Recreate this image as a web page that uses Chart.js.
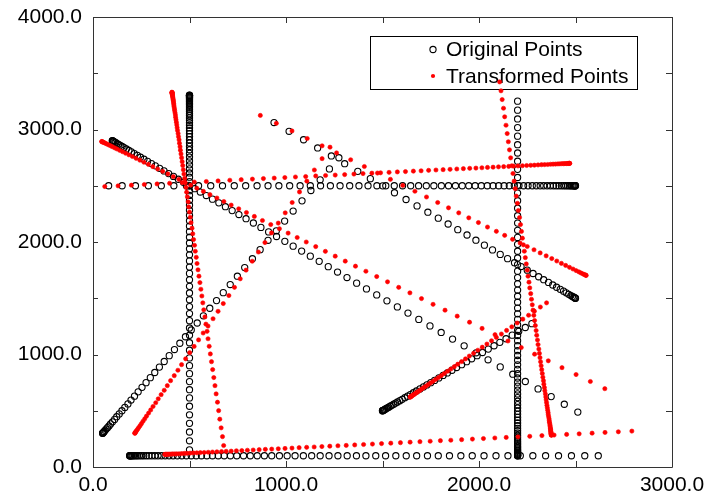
<!DOCTYPE html>
<html><head><meta charset="utf-8">
<script src="https://cdn.jsdelivr.net/npm/chart.js@4/dist/chart.umd.min.js"></script>
<style>html,body{margin:0;padding:0;background:#fff;}canvas{display:block;}</style>
</head><body>
<canvas id="c" width="708" height="504"></canvas>
<script>
// ---- axis ticks ----
const xTickLabels = [0, 1000, 2000, 3000];
const yTickLabels = [0, 1000, 2000, 3000, 4000];
const xTickMarks = [0, 500, 1000, 1500, 2000, 2500, 3000];
const yTickMarks = [0, 500, 1000, 1500, 2000, 2500, 3000, 3500, 4000];
const seriesNames = ['Original Points', 'Transformed Points'];

// ---- Original points (black circles), segment by segment ----
const origA_x = [2500,2499,2498,2495,2492,2487,2482,2475,2468,2459,2449,2439,2427,2414,2400,2386,2370,2353,2335,2317,2297,2276,2254,2231,2207,2183,2157,2130,2102,2073,2043,2012,1980,1947,1913,1878,1842,1805,1766,1727,1687,1646,1604,1561,1517,1471,1425,1378,1330,1280,1230,1179,1126,1073,1019,963,907,850,791,732,671,610,547,484,419,354,287,220,151,81];
const origA_y = [2500,2500,2500,2500,2500,2500,2500,2500,2500,2500,2500,2500,2500,2500,2500,2500,2500,2500,2500,2500,2500,2500,2500,2500,2500,2500,2500,2500,2500,2500,2500,2500,2500,2500,2500,2500,2500,2500,2500,2500,2500,2500,2500,2500,2500,2500,2500,2500,2500,2500,2500,2500,2500,2500,2500,2500,2500,2500,2500,2500,2500,2500,2500,2500,2500,2500,2500,2500,2500,2500];
const origB_x = [500,500,500,500,500,500,500,500,500,500,500,500,500,500,500,500,500,500,500,500,500,500,500,500,500,500,500,500,500,500,500,500,500,500,500,500,500,500,500,500,500,500,500,500,500,500,500,500,500,500,500,500,500,500,500,500,500,500,500,500,500,500,500,500,500,500,500,500,500,500,500,500,500,500,500,500,500,500,500,500];
const origB_y = [3305,3304,3303,3300,3297,3292,3287,3280,3273,3264,3254,3244,3232,3220,3206,3191,3176,3159,3141,3123,3103,3082,3061,3038,3014,2989,2964,2937,2909,2880,2850,2820,2788,2755,2721,2686,2650,2614,2576,2537,2497,2456,2414,2371,2327,2282,2236,2189,2141,2092,2042,1991,1939,1886,1832,1777,1721,1664,1606,1547,1487,1426,1364,1301,1236,1171,1105,1038,970,901,830,759,687,614,540,464,388,311,233,153];
const origC_x = [2200,2200,2200,2200,2200,2200,2200,2200,2200,2200,2200,2200,2200,2200,2200,2200,2200,2200,2200,2200,2200,2200,2200,2200,2200,2200,2200,2200,2200,2200,2200,2200,2200,2200,2200,2200,2200,2200,2200,2200,2200,2200,2200,2200,2200,2200,2200,2200,2200,2200,2200,2200,2200,2200,2200,2200,2200,2200,2200,2200,2200,2200,2200,2200,2200,2200,2200,2200,2200,2200,2200,2200,2200,2200,2200,2200,2200,2200,2200,2200];
const origC_y = [100,100,102,105,108,113,118,125,132,141,150,161,173,185,199,214,229,246,264,282,302,323,344,367,391,416,441,468,496,525,554,585,617,650,684,719,754,791,829,868,908,949,991,1034,1078,1123,1169,1215,1263,1312,1362,1413,1465,1518,1573,1628,1684,1741,1799,1858,1918,1979,2041,2104,2168,2234,2300,2367,2435,2504,2574,2646,2718,2791,2865,2941,3017,3094,3172,3252];
const origD_x = [190,190,192,195,198,203,208,215,223,231,241,252,263,276,290,305,321,337,355,374,394,415,437,460,484,509,535,562,590,619,649,680,712,745,780,815,851,888,926,966,1006,1047,1090,1133,1177,1223,1269,1317,1365,1414,1465,1516,1569,1623,1677,1733,1789,1847,1906,1965,2026,2088,2150,2214,2279,2345,2412,2479,2548,2618];
const origD_y = [100,100,100,100,100,100,100,100,100,100,100,100,100,100,100,100,100,100,100,100,100,100,100,100,100,100,100,100,100,100,100,100,100,100,100,100,100,100,100,100,100,100,100,100,100,100,100,100,100,100,100,100,100,100,100,100,100,100,100,100,100,100,100,100,100,100,100,100,100,100];
const origE_x = [100,101,102,105,108,113,118,125,132,141,151,161,173,186,199,214,230,246,264,283,303,323,345,368,392,417,442,469,497,526,556,587,619,652,686,721,756,793,831,870,910,951,994,1037,1081,1126,1172,1219,1267,1316,1366,1417,1470,1523,1577,1632,1688,1746,1804,1863,1923,1985,2047,2110,2175,2240,2306,2374,2442,2512];
const origE_y = [2900,2899,2898,2895,2892,2887,2882,2875,2868,2859,2849,2839,2827,2814,2801,2786,2770,2754,2736,2717,2697,2677,2655,2632,2608,2583,2558,2531,2503,2474,2444,2413,2381,2348,2314,2279,2244,2207,2169,2130,2090,2049,2006,1963,1919,1874,1828,1781,1733,1684,1634,1583,1530,1477,1423,1368,1312,1254,1196,1137,1077,1015,953,890,825,760,694,626,558,488];
const origF_x = [2500,2499,2496,2491,2484,2476,2465,2452,2438,2421,2402,2382,2360,2335,2309,2280,2250,2218,2184,2148,2110,2070,2028,1984,1938,1890,1840,1789,1735,1679,1622,1562,1501,1437,1372,1304,1235,1164,1091,1016,938];
const origF_y = [1500,1501,1504,1509,1516,1524,1535,1548,1563,1579,1598,1618,1641,1665,1691,1720,1750,1782,1816,1852,1890,1930,1972,2016,2062,2110,2160,2212,2265,2321,2378,2438,2499,2563,2628,2696,2765,2836,2909,2984,3062];
const origG_x = [50,50,52,55,58,63,68,75,83,91,101,112,123,136,150,165,181,197,215,234,254,275,297,320,344,369,395,422,450,479,509,540,572,605,640,675,711,748,786,826,866,907,950,993,1037,1083,1129,1177,1225,1274];
const origG_y = [300,301,304,309,316,326,337,350,365,383,402,423,447,472,500,530,561,595,630,668,708,750,794,840,888,938,990,1044,1100,1158,1218,1280,1344,1411,1479,1550,1622,1696,1773,1851,1932,2015,2099,2186,2275,2366,2458,2553,2650,2749];
const origH_x = [1500,1500,1502,1504,1506,1510,1514,1520,1526,1532,1540,1548,1558,1568,1578,1590,1602,1616,1630,1644,1660,1676,1694,1712,1730,1750,1770,1792,1814,1836,1860,1884,1910,1936,1962,1990,2018,2048,2078,2108,2140,2172,2206,2240,2274];
const origH_y = [500,500,502,504,506,510,514,520,526,532,540,548,558,568,578,590,602,616,630,644,660,676,694,712,730,750,770,792,814,836,860,884,910,936,962,990,1018,1048,1078,1108,1140,1172,1206,1240,1274];

// ---- Transformed points (red dots), segment by segment ----
const tranA_x = [2470,2470,2468,2465,2462,2457,2452,2445,2438,2429,2419,2409,2397,2384,2371,2356,2340,2324,2306,2287,2268,2247,2225,2202,2179,2154,2128,2101,2073,2044,2015,1984,1952,1919,1885,1850,1814,1777,1739,1700,1660,1619,1577,1534,1490,1445,1399,1352,1304,1255,1205,1154,1102,1049,994,939,883,826,768,709,648,587,525,462,397,332,266,199,130,61];
const tranA_y = [2699,2699,2699,2699,2698,2698,2697,2697,2696,2696,2695,2694,2693,2692,2691,2689,2688,2687,2685,2683,2682,2680,2678,2676,2674,2672,2670,2668,2665,2663,2660,2657,2655,2652,2649,2646,2643,2640,2637,2633,2630,2626,2623,2619,2615,2612,2608,2604,2599,2595,2591,2587,2582,2578,2573,2568,2564,2559,2554,2549,2543,2538,2533,2528,2522,2516,2511,2505,2499,2493];
const tranB_x = [409,409,410,410,410,410,411,412,412,413,414,415,416,417,418,419,420,422,423,425,427,428,430,432,434,436,438,441,443,446,448,451,453,456,459,462,465,468,471,475,478,482,485,489,493,496,500,504,508,513,517,521,526,530,535,539,544,549,554,559,564,569,574,580,585,591,596,602,608,614,620,626,632,638,645,651,657,664,671,677];
const tranB_y = [3331,3330,3329,3326,3323,3318,3313,3306,3299,3290,3280,3270,3258,3246,3232,3217,3202,3185,3168,3149,3130,3109,3087,3065,3041,3016,2991,2964,2936,2908,2878,2847,2816,2783,2749,2714,2679,2642,2604,2566,2526,2485,2443,2401,2357,2312,2266,2220,2172,2123,2073,2022,1971,1918,1864,1809,1753,1696,1639,1580,1520,1459,1397,1334,1270,1206,1140,1073,1005,936,866,795,723,650,576,501,425,348,270,191];
const tranC_x = [2375,2375,2375,2375,2374,2374,2373,2373,2372,2371,2371,2370,2369,2368,2367,2365,2364,2363,2361,2359,2358,2356,2354,2352,2350,2348,2346,2344,2341,2339,2336,2334,2331,2328,2325,2322,2319,2316,2313,2310,2306,2303,2299,2296,2292,2288,2284,2280,2276,2272,2268,2263,2259,2254,2250,2245,2240,2235,2230,2225,2220,2215,2210,2204,2199,2193,2188,2182,2176,2170,2164,2158,2152,2146,2140,2133,2127,2120,2114,2107];
const tranC_y = [283,284,285,288,291,296,301,308,315,324,334,344,356,368,382,397,412,429,446,465,484,505,527,549,573,598,623,650,678,706,736,767,798,831,865,900,935,972,1010,1048,1088,1129,1171,1213,1257,1302,1348,1394,1442,1491,1541,1592,1643,1696,1750,1805,1861,1918,1975,2034,2094,2155,2217,2280,2344,2408,2474,2541,2609,2678,2748,2819,2891,2964,3038,3113,3189,3266,3344,3423];
const tranD_x = [373,373,375,378,381,386,391,398,406,414,424,434,446,459,473,487,503,520,538,556,576,597,619,642,666,690,716,743,771,800,830,861,893,926,960,995,1031,1068,1107,1146,1186,1227,1269,1312,1356,1402,1448,1495,1543,1593,1643,1694,1747,1800,1854,1910,1966,2023,2082,2141,2202,2263,2326,2389,2454,2519,2586,2653,2722,2792];
const tranD_y = [112,112,112,113,113,113,114,114,115,116,116,117,118,119,121,122,123,125,126,128,129,131,133,135,137,139,141,144,146,149,151,154,157,159,162,165,168,172,175,178,182,185,189,192,196,200,204,208,212,216,221,225,229,234,238,243,248,253,258,263,268,273,279,284,290,295,301,307,313,319];
const tranE_x = [45,46,48,50,54,59,65,72,80,90,100,112,124,138,153,169,186,204,223,243,264,287,310,335,361,388,416,445,475,506,538,572,606,642,678,716,755,795,836,878,921,966,1011,1058,1105,1154,1204,1255,1307,1360,1414,1470,1526,1584,1642,1702,1762,1824,1887,1951,2016,2083,2150,2219,2288,2359,2430,2503,2577,2652];
const tranE_y = [2893,2893,2891,2889,2886,2882,2877,2871,2864,2856,2847,2837,2827,2815,2803,2789,2775,2760,2744,2727,2709,2690,2670,2649,2628,2605,2581,2557,2532,2505,2478,2450,2421,2391,2360,2328,2295,2262,2227,2191,2155,2118,2079,2040,2000,1959,1917,1874,1830,1785,1740,1693,1646,1597,1548,1497,1446,1394,1341,1287,1232,1176,1120,1062,1003,944,883,822,760,696];
const tranF_x = [2555,2554,2551,2545,2538,2528,2517,2503,2487,2469,2449,2427,2403,2377,2348,2317,2285,2250,2213,2174,2133,2090,2044,1997,1947,1895,1842,1786,1728,1668,1605,1541,1474,1406,1335,1262,1187,1110,1031,950,867];
const tranF_y = [1703,1704,1707,1711,1717,1725,1735,1746,1760,1775,1792,1810,1831,1853,1877,1903,1931,1960,1991,2024,2059,2095,2133,2173,2215,2259,2304,2351,2400,2451,2503,2557,2613,2671,2731,2792,2855,2920,2987,3055,3125];
const tranG_x = [217,217,218,220,223,227,232,237,244,251,259,268,277,288,299,311,325,338,353,369,385,402,421,440,459,480,501,524,547,571,596,622,648,675,704,733,763,793,825,857,891,925,960,996,1032,1070,1108,1147,1187,1228];
const tranG_y = [300,301,304,309,317,326,338,351,367,385,406,428,452,479,507,538,571,606,643,682,723,767,812,860,910,962,1016,1072,1130,1191,1253,1318,1384,1453,1524,1597,1673,1750,1829,1911,1995,2081,2168,2259,2351,2445,2541,2640,2741,2843];
const tranH_x = [1644,1644,1645,1647,1650,1653,1657,1662,1667,1673,1680,1688,1696,1705,1715,1726,1737,1749,1762,1775,1790,1805,1820,1837,1854,1872,1890,1910,1930,1950,1972,1994,2017,2041,2065,2090,2116,2143,2170,2198,2227,2257,2287,2318,2350];
const tranH_y = [622,622,624,626,629,633,638,643,650,657,665,674,684,695,707,719,733,747,762,778,795,813,831,851,871,892,914,937,961,986,1011,1038,1065,1093,1122,1152,1182,1214,1246,1280,1314,1349,1385,1422,1459];

// ---- build the chart ----
const pts = (xs, ys) => xs.map((v, i) => ({x: v, y: ys[i]}));
const origPts = [].concat(pts(origA_x, origA_y), pts(origB_x, origB_y), pts(origC_x, origC_y), pts(origD_x, origD_y),
                          pts(origE_x, origE_y), pts(origF_x, origF_y), pts(origG_x, origG_y), pts(origH_x, origH_y));
const tranPts = [].concat(pts(tranA_x, tranA_y), pts(tranB_x, tranB_y), pts(tranC_x, tranC_y), pts(tranD_x, tranD_y),
                          pts(tranE_x, tranE_y), pts(tranF_x, tranF_y), pts(tranG_x, tranG_y), pts(tranH_x, tranH_y));

const FONT = 'Liberation Sans, Arial, Helvetica, sans-serif';
const CIRCLE = {r: 3.1, w: 1.1, color: '#000'};
const DOT = {r: 2.1, w: 0.6, color: '#ff0000'};

const framePlugin = {
  id: 'frameAndLegend',
  beforeDatasetsDraw(chart) {
    const {ctx, chartArea: a} = chart;
    ctx.save();
    const bx = a.right - 302, by = a.top + 19, bw = 267, bh = 53;
    ctx.fillStyle = '#fff';
    ctx.fillRect(bx, by, bw, bh);
    ctx.strokeStyle = '#000';
    ctx.lineWidth = 1;
    ctx.strokeRect(Math.round(bx) + 0.5, Math.round(by) + 0.5, bw, bh);
    const mx = bx + 63;
    const rows = [by + 13.5, by + 40];
    ctx.beginPath();
    ctx.arc(mx, rows[0], CIRCLE.r, 0, Math.PI * 2);
    ctx.lineWidth = CIRCLE.w;
    ctx.strokeStyle = CIRCLE.color;
    ctx.stroke();
    ctx.beginPath();
    ctx.arc(mx, rows[1], DOT.r, 0, Math.PI * 2);
    ctx.fillStyle = DOT.color;
    ctx.fill();
    ctx.fillStyle = '#000';
    ctx.font = '21px ' + FONT;
    ctx.textAlign = 'left';
    ctx.textBaseline = 'middle';
    ctx.fillText(seriesNames[0], bx + 76, rows[0] + 1);
    ctx.fillText(seriesNames[1], bx + 76, rows[1] + 1);
    ctx.restore();
  },
  afterDatasetsDraw(chart) {
    const {ctx, chartArea: a, scales: {x, y}} = chart;
    ctx.save();
    ctx.strokeStyle = '#333';
    ctx.lineWidth = 1;
    ctx.beginPath();
    ctx.rect(Math.round(a.left) + 0.5, Math.round(a.top) + 0.5, Math.round(a.right - a.left), Math.round(a.bottom - a.top));
    ctx.stroke();
    ctx.beginPath();
    xTickMarks.forEach(v => {
      const px = Math.round(x.getPixelForValue(v)) + 0.5;
      ctx.moveTo(px, a.bottom); ctx.lineTo(px, a.bottom - 6);
      ctx.moveTo(px, a.top); ctx.lineTo(px, a.top + 6);
    });
    yTickMarks.forEach(v => {
      const py = Math.round(y.getPixelForValue(v)) + 0.5;
      ctx.moveTo(a.left, py); ctx.lineTo(a.left + 5, py);
      ctx.moveTo(a.right, py); ctx.lineTo(a.right - 6, py);
    });
    ctx.stroke();
    ctx.restore();
  }
};

new Chart(document.getElementById('c').getContext('2d'), {
  type: 'scatter',
  data: {
    datasets: [
      {label: seriesNames[0], data: origPts, order: 1, pointStyle: 'circle',
       pointRadius: CIRCLE.r, pointBorderWidth: CIRCLE.w, pointBorderColor: CIRCLE.color,
       pointBackgroundColor: 'rgba(0,0,0,0)', showLine: false},
      {label: seriesNames[1], data: tranPts, order: 0, pointStyle: 'circle',
       pointRadius: DOT.r, pointBorderWidth: DOT.w, pointBorderColor: DOT.color,
       pointBackgroundColor: DOT.color, showLine: false}
    ]
  },
  options: {
    responsive: false, animation: false, devicePixelRatio: 1,
    layout: {padding: {top: 17, right: 36, left: 0, bottom: 0}},
    plugins: {legend: {display: false}, tooltip: {enabled: false}},
    scales: {
      x: {type: 'linear', min: 0, max: 3000,
          afterBuildTicks: s => { s.ticks = xTickLabels.map(v => ({value: v})); },
          afterFit: s => { s.height = 37; s.paddingLeft = 0; s.paddingRight = 0; },
          grid: {display: false, drawTicks: false}, border: {display: false},
          ticks: {color: '#000', font: {family: FONT, size: 21}, padding: 6, maxRotation: 0, autoSkip: false,
                  callback: v => Number(v).toFixed(1)}},
      y: {type: 'linear', min: 0, max: 4000,
          afterBuildTicks: s => { s.ticks = yTickLabels.map(v => ({value: v})); },
          afterFit: s => { s.width = 93; s.paddingTop = 0; s.paddingBottom = 0; },
          grid: {display: false, drawTicks: false}, border: {display: false},
          ticks: {color: '#000', font: {family: FONT, size: 21}, padding: 11, autoSkip: false,
                  callback: v => Number(v).toFixed(1)}}
    }
  },
  plugins: [framePlugin]
});
</script>
</body></html>
